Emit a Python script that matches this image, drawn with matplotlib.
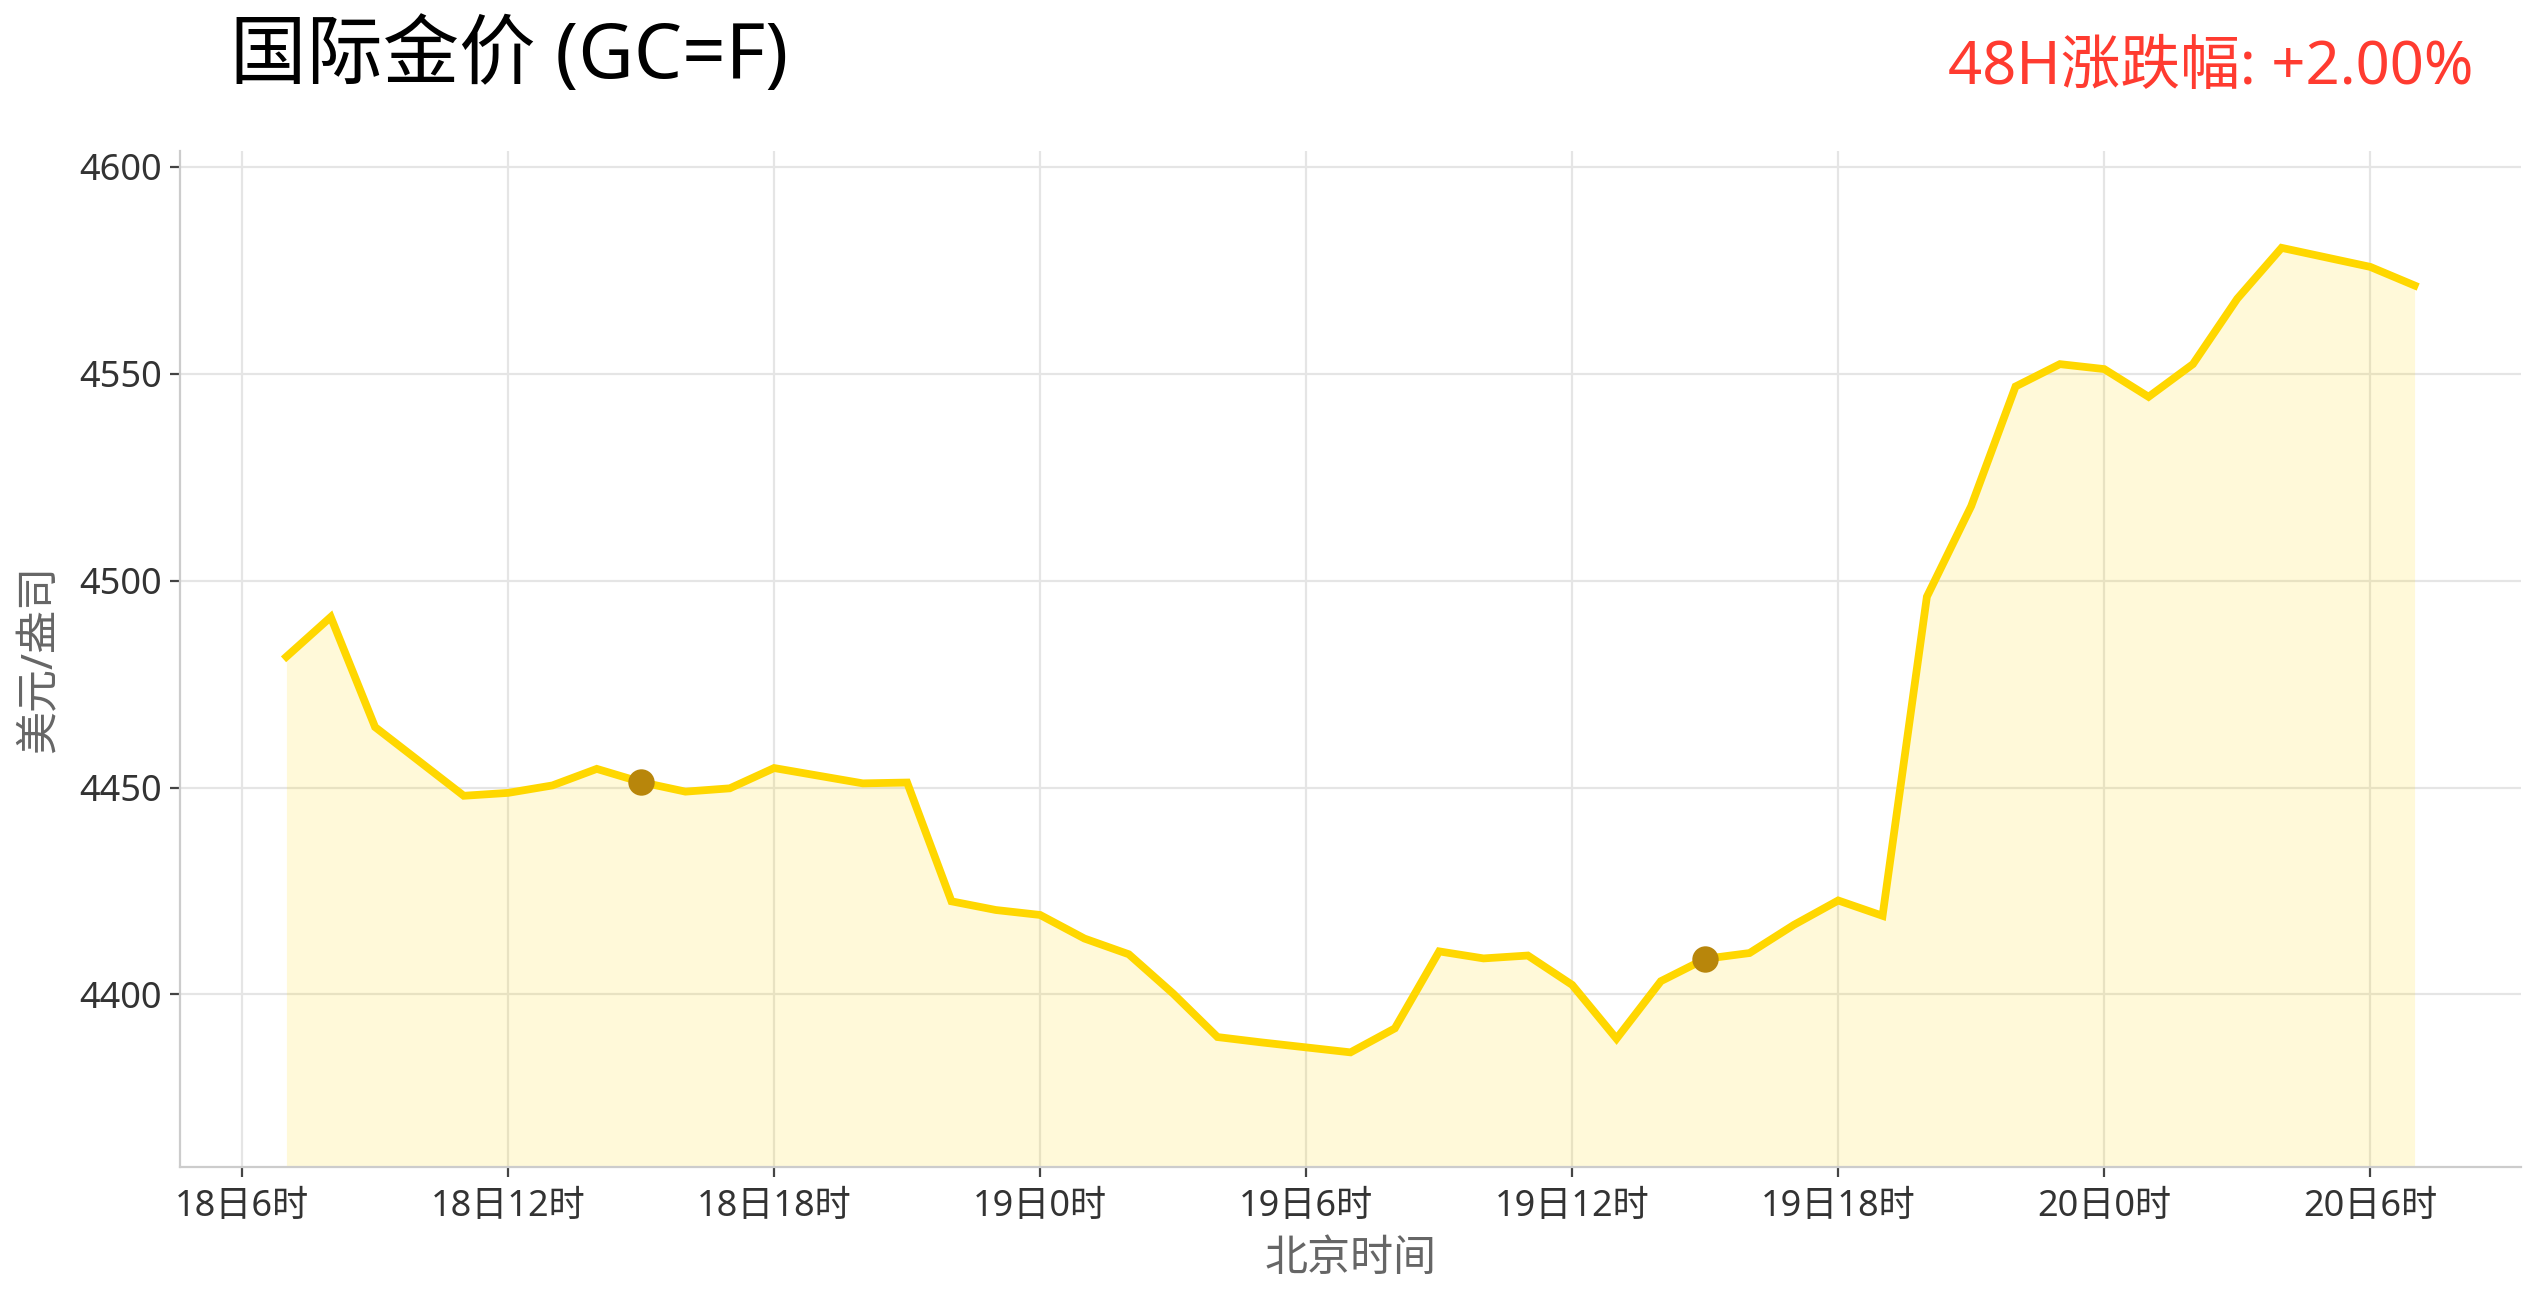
import matplotlib
matplotlib.use("Agg")
import matplotlib.pyplot as plt

plt.rcParams['font.family'] = ['Noto Sans', 'Noto Sans CJK SC', 'DejaVu Sans']
plt.rcParams['axes.unicode_minus'] = False

# hours since 18日0时 (Beijing time)
hours = [7, 8, 9, 11, 12, 13, 14, 15, 16, 17, 18, 20, 21, 22, 23, 24, 25, 26, 27, 28,
         29, 30, 31, 32, 33, 34, 35, 36, 37, 38, 39, 40, 41, 42, 43, 44, 45, 46, 47, 48,
         49, 50, 51, 52, 54, 55]
prices = [4481.6, 4491.2, 4464.6, 4448.0, 4448.7, 4450.5, 4454.5, 4451.3, 4449.0, 4449.8,
          4454.7, 4451.0, 4451.2, 4422.5, 4420.4, 4419.2, 4413.5, 4409.7, 4400.2, 4389.7,
          4388.4, 4387.2, 4386.0, 4391.8, 4410.4, 4408.7, 4409.4, 4402.3, 4389.3, 4403.2,
          4408.6, 4410.0, 4416.8, 4422.7, 4419.0, 4496.1, 4518.0, 4546.9, 4552.3, 4551.1,
          4544.4, 4552.3, 4568.1, 4580.4, 4575.8, 4571.3]
marker_hours = [15, 39]

tick_hours = [6, 12, 18, 24, 30, 36, 42, 48, 54]
tick_labels = ["18日6时", "18日12时", "18日18时", "19日0时", "19日6时",
               "19日12时", "19日18时", "20日0时", "20日6时"]
y_ticks = [4400, 4450, 4500, 4550, 4600]

title = "国际金价 (GC=F)"
change_text = "48H涨跌幅: +2.00%"
xlabel = "北京时间"
ylabel = "美元/盎司"

W, H, DPI = 2541, 1302, 200
fig = plt.figure(figsize=(W / DPI, H / DPI), dpi=DPI)
ax = fig.add_axes([180 / W, 1 - 1167 / H, (2521 - 180) / W, (1167 - 151) / H])

ymin, ymax = 4358.3, 4603.8
ax.fill_between(hours, prices, ymin, color='#FFD700', alpha=0.15, linewidth=0)
ax.plot(hours, prices, color='#FFD700', linewidth=2.8, solid_joinstyle='miter', zorder=3)
mvals = [prices[hours.index(h)] for h in marker_hours]
ax.plot(marker_hours, mvals, 'o', color='#B8860B', markersize=8.5, zorder=4)

ax.set_xlim(hours[0] - 0.05 * (hours[-1] - hours[0]), hours[-1] + 0.05 * (hours[-1] - hours[0]))
ax.set_ylim(ymin, ymax)
ax.set_xticks(tick_hours)
ax.set_xticklabels(tick_labels)
ax.set_yticks(y_ticks)

ax.grid(True, color='#e5e5e5', linewidth=0.8)
ax.set_axisbelow(True)
for s in ['top', 'right']:
    ax.spines[s].set_visible(False)
for s in ['left', 'bottom']:
    ax.spines[s].set_color('#cccccc')
    ax.spines[s].set_linewidth(0.8)
ax.tick_params(axis='both', colors='#333333', labelsize=13, length=3.5, width=0.8, pad=3)
ax.tick_params(axis='x', pad=4.5)
ax.tick_params(axis='both', color='#444444')

ax.set_xlabel(xlabel, fontsize=15.5, color='#666666', labelpad=4.5)
ax.set_ylabel(ylabel, fontsize=15.5, color='#666666', labelpad=6)

fig.text(230 / W, 1 - 58 / H, title, fontsize=27.5, color='black', ha='left', va='center')
fig.text(2473 / W, 1 - 68 / H, change_text, fontsize=21.5, color='#FF3B30', ha='right', va='center')

fig.savefig("out.png", dpi=DPI, facecolor='white')
